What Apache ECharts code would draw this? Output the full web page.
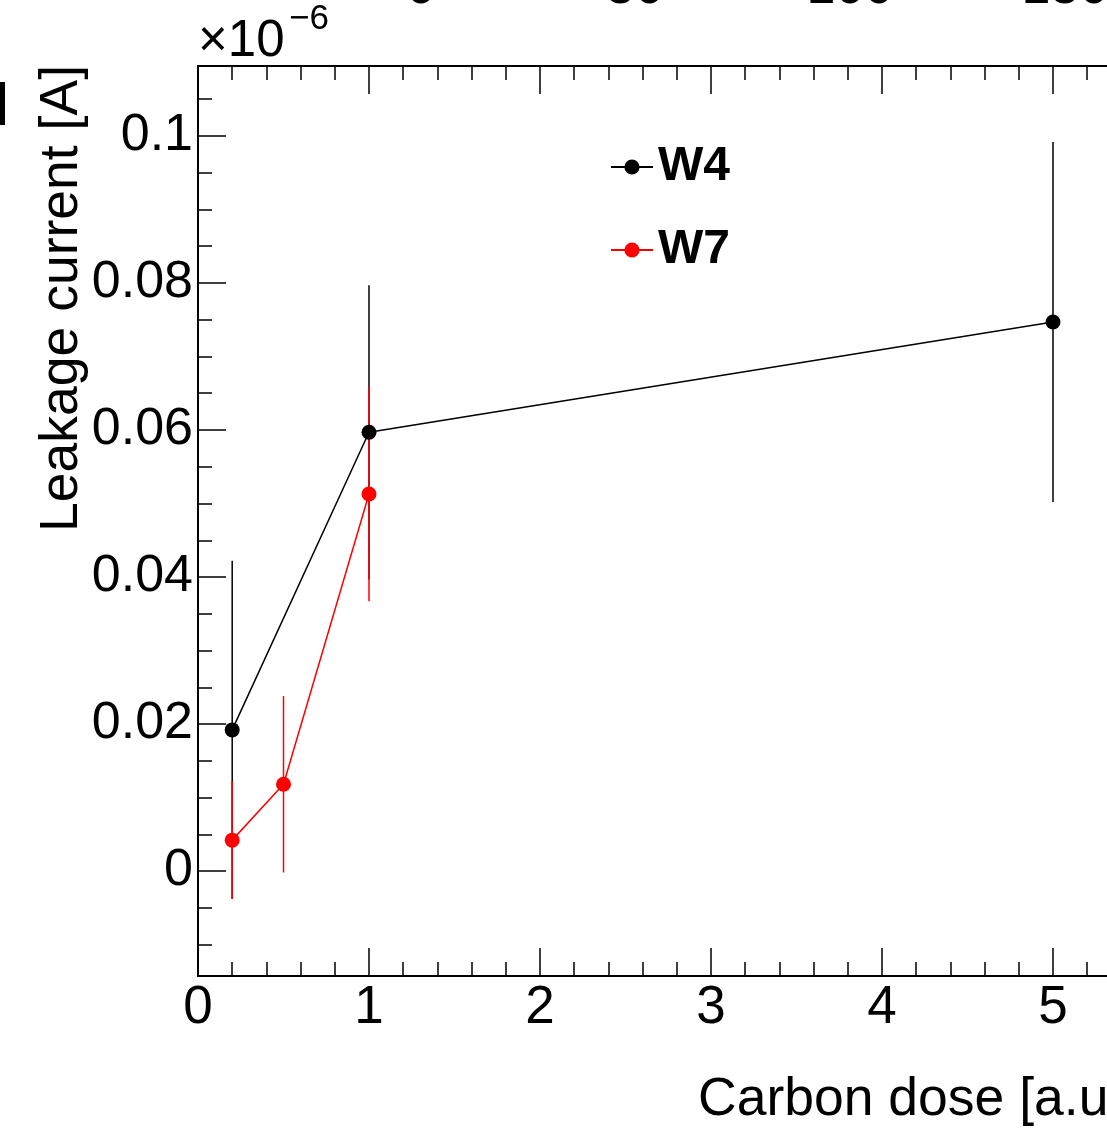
<!DOCTYPE html>
<html>
<head>
<meta charset="utf-8">
<script src="https://cdn.jsdelivr.net/npm/echarts@6/dist/echarts.min.js"></script>
<style>
  html, body { margin: 0; padding: 0; background: #fff; overflow: hidden; }
  #main { width: 1200px; height: 1131px; }
</style>
</head>
<body>
<div id="main"></div>
<script>
// data (leakage current in units of 1e-6 A)
var w4X = [0.2, 1, 5]
var w4Y = [0.0192, 0.0597, 0.0747]
var w4Err = [0.0230, 0.0200, 0.0245]

var w7X = [0.2, 0.5, 1]
var w7Y = [0.0042, 0.0118, 0.0513]
var w7Err = [0.0080, 0.0120, 0.0146]

// axis ticks
var xMajor = [0, 1, 2, 3, 4, 5]
var yMajor = [0, 0.02, 0.04, 0.06, 0.08, 0.1]
var topLabels = ['0', '50', '100', '150']

var XMIN = 0, XMAX = 5.5
var YMIN = -0.0142857, YMAX = 0.1095238

var xMinor = []
for (var i = 1; i <= 27; i++) {
	var v = Math.round(i * 0.2 * 10) / 10
	if (v % 1 !== 0) xMinor.push(v)
}
var yMinor = []
for (var j = -2; j <= 21; j++) {
	var u = Math.round(j * 0.005 * 1000) / 1000
	if (j % 4 !== 0) yMinor.push(u)
}

var FONT = 'Liberation Sans, Arial, Helvetica, sans-serif'

function pts(xs, ys) {
	return xs.map(function (x, k) { return [x, ys[k]] })
}
function errs(xs, ys, es) {
	return xs.map(function (x, k) { return [x, ys[k] - es[k], ys[k] + es[k]] })
}
function errRender(color) {
	return function (params, api) {
		var a = api.coord([api.value(0), api.value(1)])
		var b = api.coord([api.value(0), api.value(2)])
		return {
			type: 'line',
			shape: { x1: a[0], y1: a[1], x2: b[0], y2: b[1] },
			style: { stroke: color, lineWidth: 1.5 }
		}
	}
}

function xAx(pos, major, withLabels) {
	return {
		type: 'value', min: XMIN, max: XMAX, position: pos,
		axisLine: { show: major, onZero: false, lineStyle: { color: '#000', width: 2 } },
		splitLine: { show: false },
		axisTick: {
			show: true, inside: true, length: major ? 28 : 14,
			customValues: major ? xMajor : xMinor,
			lineStyle: { color: '#000', width: 1.5 }
		},
		axisLabel: {
			show: withLabels, customValues: xMajor, margin: 6,
			color: '#000', fontSize: 53, fontFamily: FONT
		}
	}
}

function yAx(major) {
	return {
		type: 'value', min: YMIN, max: YMAX, position: 'left',
		axisLine: { show: major, onZero: false, lineStyle: { color: '#000', width: 2 } },
		splitLine: { show: false },
		axisTick: {
			show: true, inside: true, length: major ? 28 : 14,
			customValues: major ? yMajor : yMinor,
			lineStyle: { color: '#000', width: 1.5 }
		},
		axisLabel: {
			show: major, customValues: yMajor, margin: 5,
			color: '#000', fontSize: 52, fontFamily: FONT,
			formatter: function (v) { return String(+v.toFixed(3)) }
		}
	}
}

function txt(x, y, s, size, align, extra) {
	var el = {
		type: 'text', x: x, y: y,
		style: { text: s, font: size + 'px ' + FONT, fill: '#000', align: align, verticalAlign: 'middle', textAlign: align, textVerticalAlign: 'middle' }
	}
	if (extra) el.rotation = extra
	return el
}

var chart = echarts.init(document.getElementById('main'))

var option = {
	animation: false,
	backgroundColor: '#fff',
	grid: { left: 198, top: 66, width: (XMAX - XMIN) * 171, height: 910 },
	xAxis: [xAx('bottom', true, true), xAx('bottom', false, false), xAx('top', true, false), xAx('top', false, false)],
	yAxis: [yAx(true), yAx(false)],
	legend: {
		data: ['W4', 'W7'],
		orient: 'vertical',
		left: 605, top: 138,
		itemWidth: 42, itemHeight: 19, itemGap: 35,
		textStyle: { color: '#000', fontSize: 48, fontWeight: 'bold', fontFamily: FONT }
	},
	graphic: [
		txt(198, 42, '×10', 51, 'left'),
		txt(289, 19, '−6', 35, 'left'),
		txt(62, 65, 'Leakage current [A]', 53.5, 'right', Math.PI / 2),
		txt(698, 1100, 'Carbon dose [a.u.]', 53.5, 'left'),
		txt(421, -11, topLabels[0], 52, 'center'),
		txt(635, -11, topLabels[1], 52, 'center'),
		txt(850, -11, topLabels[2], 52, 'center'),
		txt(1065, -11, topLabels[3], 52, 'center'),
		{ type: 'rect', shape: { x: 0, y: 82, width: 5, height: 43 }, style: { fill: '#000' } }
	],
	series: [
		{
			name: 'W4 err', type: 'custom', xAxisIndex: 0, yAxisIndex: 0, z: 1,
			renderItem: errRender('#000'), data: errs(w4X, w4Y, w4Err)
		},
		{
			name: 'W7 err', type: 'custom', xAxisIndex: 0, yAxisIndex: 0, z: 1,
			renderItem: errRender('#ff0000'), data: errs(w7X, w7Y, w7Err)
		},
		{
			name: 'W4', type: 'line', xAxisIndex: 0, yAxisIndex: 0, z: 3,
			data: pts(w4X, w4Y), symbol: 'circle', symbolSize: 15, showSymbol: true,
			color: '#000', lineStyle: { color: '#000', width: 1.5 }, itemStyle: { color: '#000' }
		},
		{
			name: 'W7', type: 'line', xAxisIndex: 0, yAxisIndex: 0, z: 3,
			data: pts(w7X, w7Y), symbol: 'circle', symbolSize: 15, showSymbol: true,
			color: '#ff0000', lineStyle: { color: '#ff0000', width: 1.5 }, itemStyle: { color: '#ff0000' }
		}
	]
}

chart.setOption(option)
</script>
</body>
</html>
